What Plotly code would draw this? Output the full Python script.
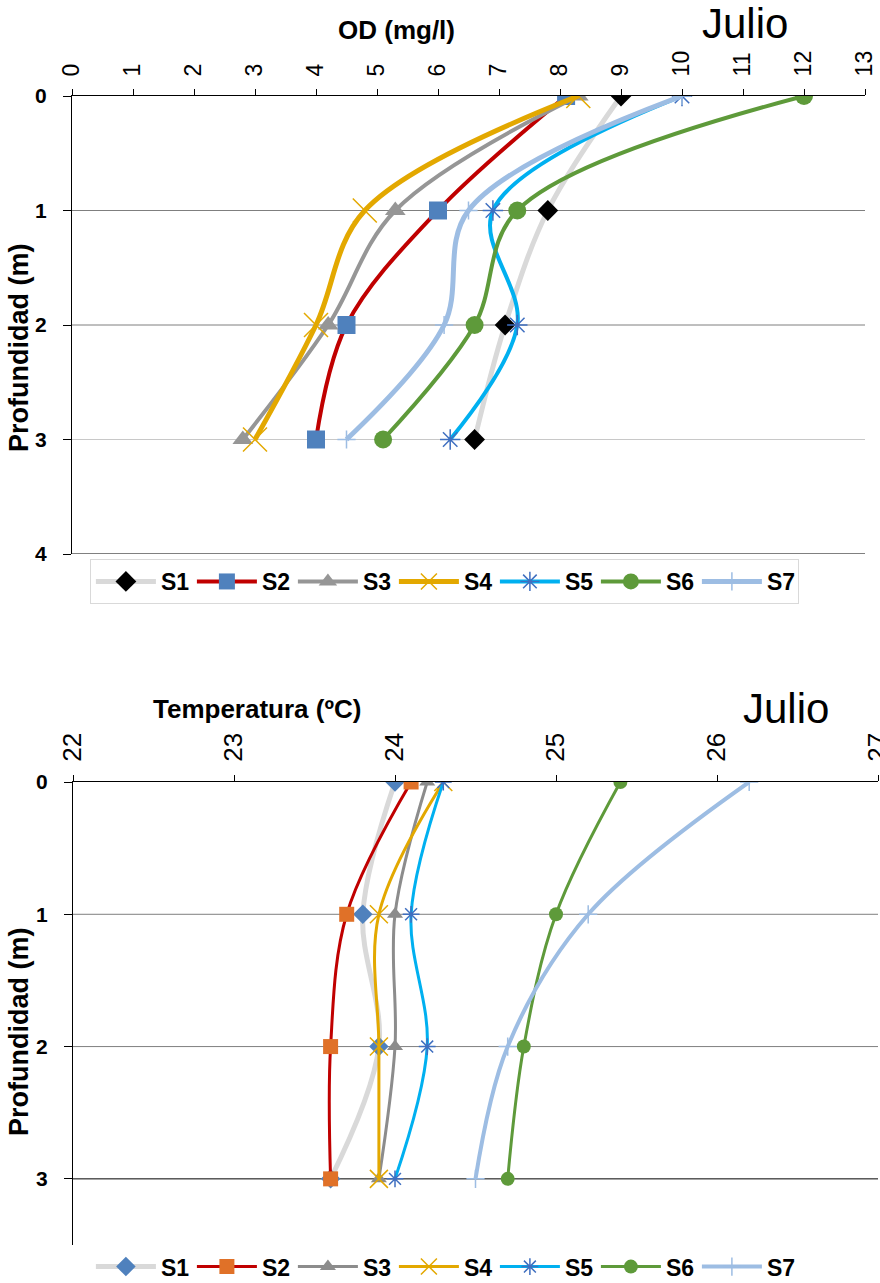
import plotly.graph_objects as go

W, H = 880, 1283

# ---------------- data ----------------
depth = [0, 1, 2, 3]
series = ["S1", "S2", "S3", "S4", "S5", "S6", "S7"]

od_S1 = [9.0, 7.8, 7.1, 6.6]
od_S2 = [8.1, 6.0, 4.5, 4.0]
od_S3 = [8.3, 5.3, 4.2, 2.8]
od_S4 = [8.3, 4.8, 4.0, 3.0]
od_S5 = [10.0, 6.9, 7.3, 6.2]
od_S6 = [12.0, 7.3, 6.6, 5.1]
od_S7 = [10.0, 6.5, 6.1, 4.5]

temp_S1 = [24.0, 23.8, 23.9, 23.6]
temp_S2 = [24.1, 23.7, 23.6, 23.6]
temp_S3 = [24.2, 24.0, 24.0, 23.9]
temp_S4 = [24.3, 23.9, 23.9, 23.9]
temp_S5 = [24.3, 24.1, 24.2, 24.0]
temp_S6 = [25.4, 25.0, 24.8, 24.7]
temp_S7 = [26.2, 25.2, 24.7, 24.5]

od_ticks = list(range(0, 14))
temp_ticks = [22, 23, 24, 25, 26, 27]
depth_ticks_top = [0, 1, 2, 3, 4]
depth_ticks_bot = [0, 1, 2, 3]

od_values = [od_S1, od_S2, od_S3, od_S4, od_S5, od_S6, od_S7]
temp_values = [temp_S1, temp_S2, temp_S3, temp_S4, temp_S5, temp_S6, temp_S7]

# ---------------- styles ----------------
FONT = "Liberation Sans, Arial, sans-serif"
line_cols = ["#D9D9D9", "#C00000", "#969696", "#E3A800", "#00B0F0", "#5E9A3A", "#9DBDE3"]

top_line_w = [5, 4, 4, 5, 4, 4, 5]
top_markers = [
    dict(symbol="diamond", size=16, color="black"),
    dict(symbol="square", size=18, color="#4F81BD"),
    dict(symbol="triangle-up", size=18, color="#969696"),
    dict(symbol="x-thin-open", size=24, color="#E3A800", line=dict(width=1.5, color="#E3A800")),
    dict(symbol="asterisk-open", size=17, color="#3F6FC0", line=dict(width=1.5, color="#3F6FC0")),
    dict(symbol="circle", size=18, color="#5E9A3A"),
    dict(symbol="cross-thin-open", size=13, color="#9DBDE3", line=dict(width=1.5, color="#9DBDE3")),
]

bot_line_w = [5, 3, 3, 3, 3, 3, 4]
bot_markers = [
    dict(symbol="diamond", size=15, color="#4F81BD"),
    dict(symbol="square", size=15, color="#E07128"),
    dict(symbol="triangle-up", size=14, color="#8C8C8C"),
    dict(symbol="x-thin-open", size=18, color="#E3A800", line=dict(width=1.5, color="#E3A800")),
    dict(symbol="asterisk-open", size=14, color="#3F6FC0", line=dict(width=1.5, color="#3F6FC0")),
    dict(symbol="circle", size=14, color="#5E9A3A"),
    dict(symbol="cross-thin-open", size=13, color="#9DBDE3", line=dict(width=1.5, color="#9DBDE3")),
]
bot_line_cols = ["#D9D9D9", "#C00000", "#8C8C8C", "#E3A800", "#00B0F0", "#5E9A3A", "#9DBDE3"]

fig = go.Figure()

for i, name in enumerate(series):
    fig.add_trace(go.Scatter(
        x=od_values[i], y=depth, name=name, mode="lines+markers",
        line=dict(color=line_cols[i], width=top_line_w[i], shape="spline", smoothing=1.0),
        marker=top_markers[i], xaxis="x", yaxis="y", legend="legend",
    ))

for i, name in enumerate(series):
    fig.add_trace(go.Scatter(
        x=temp_values[i], y=depth, name=name, mode="lines+markers",
        line=dict(color=bot_line_cols[i], width=bot_line_w[i], shape="spline", smoothing=1.0),
        marker=bot_markers[i], xaxis="x2", yaxis="y2", legend="legend2",
    ))


def py(px):
    return 1 - px / H


def pxx(px):
    return px / W


# plot areas (pixels)
top_l, top_r, top_t, top_b = 72, 865, 96, 554
bot_l, bot_r, bot_t, bot_b = 73, 878, 782, 1245

fig.update_layout(
    width=W, height=H,
    margin=dict(l=0, r=0, t=0, b=0, autoexpand=False),
    paper_bgcolor="white", plot_bgcolor="white",
    font=dict(family=FONT, color="black"),
    xaxis=dict(
        domain=[pxx(top_l), pxx(top_r)], anchor="y", side="top", automargin=False,
        range=[0, 13], tickvals=od_ticks, tickangle=-90,
        tickfont=dict(size=23, family=FONT), ticks="outside", ticklen=6,
        tickcolor="black", showline=True, linecolor="black", linewidth=1,
        showgrid=False, zeroline=False, ticklabelstandoff=8,
        ticklabeloverflow="allow",
    ),
    yaxis=dict(
        domain=[py(top_b), py(top_t)], anchor="x", automargin=False,
        range=[4, 0], tickvals=depth_ticks_top,
        tickfont=dict(size=21, family=FONT, weight="bold"),
        ticks="outside", ticklen=8, tickcolor="black",
        showline=True, linecolor="black", linewidth=1,
        showgrid=False, zeroline=False, ticklabelstandoff=12,
    ),
    xaxis2=dict(
        domain=[pxx(bot_l), pxx(bot_r)], anchor="y2", side="top", automargin=False,
        range=[22, 27], tickvals=temp_ticks, tickangle=-90,
        tickfont=dict(size=26, family=FONT), ticks="outside", ticklen=6,
        tickcolor="black", showline=True, linecolor="black", linewidth=1,
        showgrid=False, zeroline=False, ticklabelstandoff=8,
        ticklabeloverflow="allow",
    ),
    yaxis2=dict(
        domain=[py(bot_b), py(bot_t)], anchor="x2", automargin=False,
        range=[3.5, 0], tickvals=depth_ticks_bot,
        tickfont=dict(size=21, family=FONT, weight="bold"),
        ticks="outside", ticklen=8, tickcolor="black",
        showline=True, linecolor="black", linewidth=1,
        showgrid=False, zeroline=False, ticklabelstandoff=12,
    ),
    legend=dict(
        orientation="h", x=0.505, xanchor="center", y=py(559), yanchor="top",
        font=dict(size=23, family=FONT, weight="bold"),
        bordercolor="#D9D9D9", borderwidth=1, bgcolor="white",
        entrywidth=26, itemwidth=60, tracegroupgap=0,
    ),
    legend2=dict(
        orientation="h", x=0.505, xanchor="center", y=-0.004, yanchor="bottom",
        font=dict(size=23, family=FONT, weight="bold"),
        borderwidth=0, bgcolor="rgba(0,0,0,0)",
        entrywidth=26, itemwidth=60, tracegroupgap=0,
    ),
    showlegend=True,
)

# horizontal grid lines drawn at depth ticks
grid_top = {1: "#7F7F7F", 2: "#7F7F7F", 3: "#C8C8C8", 4: "#000000"}
for d in depth_ticks_top[1:]:
    fig.add_shape(type="line", xref="x domain", yref="y", x0=0, x1=1, y0=d, y1=d,
                  line=dict(color=grid_top[d], width=1), layer="below")
grid_bot = {1: "#7F7F7F", 2: "#7F7F7F", 3: "#000000"}
for d in depth_ticks_bot[1:]:
    fig.add_shape(type="line", xref="x2 domain", yref="y2", x0=0, x1=1, y0=d, y1=d,
                  line=dict(color=grid_bot[d], width=1), layer="below")

annots = [
    dict(text="<b>OD (mg/l)</b>", x=pxx(396), y=py(30), size=26),
    dict(text="Julio", x=pxx(745), y=py(24), size=42),
    dict(text="<b>Temperatura (ºC)</b>", x=pxx(257), y=py(709), size=26),
    dict(text="Julio", x=pxx(786), y=py(708), size=42),
]
for a in annots:
    fig.add_annotation(text=a["text"], x=a["x"], y=a["y"], xref="paper", yref="paper",
                       xanchor="center", yanchor="middle", showarrow=False,
                       font=dict(size=a["size"], family=FONT, color="black"))

for yc in (348, 1032):
    fig.add_annotation(text="<b>Profundidad (m)</b>", x=pxx(19), y=py(yc), xref="paper", yref="paper",
                       xanchor="center", yanchor="middle", showarrow=False, textangle=-90,
                       font=dict(size=27, family=FONT, color="black"))

fig.write_html("out.html", config={"displayModeBar": False},
               post_script="document.body.style.margin='0px';")
